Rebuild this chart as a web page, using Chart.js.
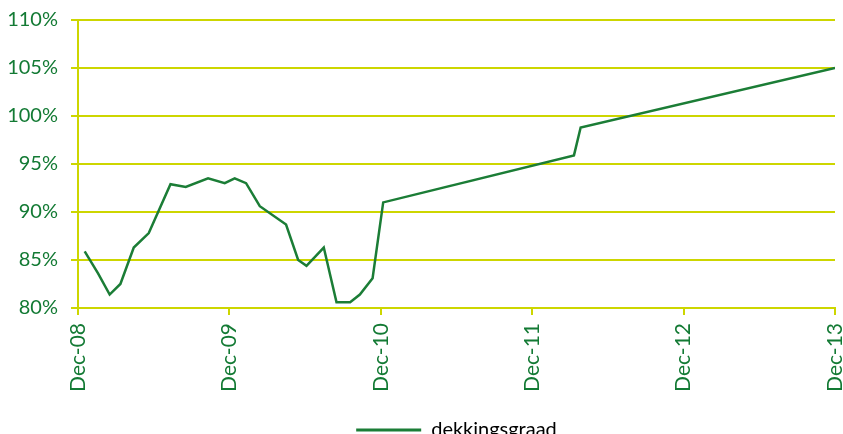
<!DOCTYPE html>
<html>
<head>
<meta charset="utf-8">
<script src="https://cdn.jsdelivr.net/npm/chart.js@4.4.0/dist/chart.umd.min.js"></script>
<style>
  html, body { margin: 0; padding: 0; background: #fff; overflow: hidden; }
  #wrap { width: 843px; height: 450px; }
</style>
</head>
<body>
<div id="wrap"><canvas id="chart" width="843" height="450"></canvas></div>
<script>
// months since Dec-08 and coverage ratio (%)
const months = [0.53, 1.59, 2.51, 3.36, 4.42, 5.61, 7.33, 8.54, 10.31, 11.63, 12.42, 13.32,
  14.41, 16.49, 17.45, 18.11, 19.48, 20.49, 21.57, 22.34, 23.35, 24.19, 39.31, 39.84, 60];
const dekkingsgraad = [85.9, 83.6, 81.4, 82.5, 86.3, 87.8, 92.9, 92.6, 93.5, 93.0, 93.5, 93.0,
  90.6, 88.7, 85.0, 84.4, 86.3, 80.6, 80.6, 81.4, 83.1, 91.0, 95.9, 98.8, 105.0];
const tickMonths = [0, 12, 24, 36, 48, 60];
const tickLabels = ["Dec-08", "Dec-09", "Dec-10", "Dec-11", "Dec-12", "Dec-13"];
const seriesName = "dekkingsgraad";

const green = "#1b7d36";
const textGreen = "#137a34";
const yellow = "#cdd600";

Chart.defaults.font.family = "Lato, 'Open Sans', sans-serif";
Chart.defaults.font.size = 20;
Chart.defaults.color = textGreen;

const ctx = document.getElementById("chart").getContext("2d");
new Chart(ctx, {
  type: "line",
  data: {
    datasets: [{
      label: seriesName,
      data: months.map((m, i) => ({ x: m, y: dekkingsgraad[i] })),
      borderColor: green,
      backgroundColor: green,
      borderWidth: 2.5,
      pointRadius: 0,
      tension: 0
    }]
  },
  options: {
    responsive: false,
    animation: false,
    layout: { padding: { left: 0, right: 8, top: 20, bottom: 0 } },
    plugins: {
      tooltip: { enabled: false },
      legend: {
        position: "bottom",
        fullSize: false,
        labels: {
          boxWidth: 65,
          boxHeight: 3,
          padding: 10,
          color: textGreen,
          font: { size: 20 },
          generateLabels: chart => [{
            text: seriesName,
            fillStyle: green,
            strokeStyle: green,
            lineWidth: 0,
            datasetIndex: 0
          }]
        }
      }
    },
    scales: {
      x: {
        type: "linear",
        min: 0,
        max: 60,
        afterBuildTicks: scale => { scale.ticks = tickMonths.map(v => ({ value: v })); },
        afterFit: scale => { scale.height = 102; scale.paddingLeft = 0; scale.paddingRight = 0; },
        ticks: {
          minRotation: 90,
          maxRotation: 90,
          padding: 8,
          autoSkip: false,
          font: { size: 21 },
          callback: v => tickLabels[tickMonths.indexOf(v)]
        },
        grid: { drawOnChartArea: false, drawTicks: true, tickLength: 7, color: yellow, lineWidth: 2 },
        border: { display: true, color: yellow, width: 2 }
      },
      y: {
        min: 80,
        max: 110,
        afterFit: scale => { scale.width = 78; scale.paddingTop = 0; scale.paddingBottom = 0; },
        ticks: {
          stepSize: 5,
          padding: 13,
          callback: v => v + "%"
        },
        grid: { color: yellow, lineWidth: 2, tickLength: 7, drawTicks: true },
        border: { display: true, color: yellow, width: 2 }
      }
    }
  }
});
</script>
</body>
</html>
